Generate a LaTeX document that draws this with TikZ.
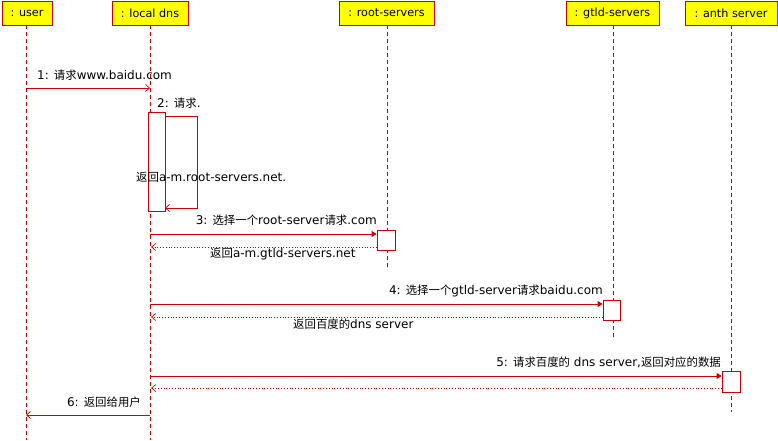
\documentclass[tikz,border=0pt]{standalone}
\usepackage{fontspec}
\setmainfont{DejaVu Sans}
\newfontfamily\cjk[Scale=0.95]{Noto Sans CJK SC}
\usetikzlibrary{arrows.meta}
\definecolor{lred}{RGB}{204,0,0}
\definecolor{hyel}{RGB}{255,255,0}
\tikzset{
  head/.style={draw=lred, fill=hyel, line width=0.8pt, minimum height=24pt, inner sep=0pt, font=\fontsize{11.2}{13}\selectfont},
  life/.style={draw=lred, line width=0.7pt, dash pattern=on 4pt off 3pt},
  act/.style={draw=lred, fill=white, line width=0.8pt, inner sep=0pt},
  call/.style={draw=lred, line width=0.8pt, -{Triangle[length=5pt,width=6pt]}},
  open/.style={draw=lred, line width=0.8pt, -{Straight Barb[length=4pt,width=7pt,line width=0.7pt]}},
  ret/.style={draw=lred, line width=0.8pt, dotted, -{Straight Barb[length=4pt,width=7pt,line width=0.7pt,sep]}},
  lbl/.style={inner sep=0pt, font=\fontsize{12}{14}\selectfont}
}
\begin{document}
\begin{tikzpicture}[x=1pt,y=-1pt]
\useasboundingbox (0,0) rectangle (778,440);
% heads
\node[head, minimum width=50pt] (user) at (27,13) {: user};
\node[head, minimum width=76pt] (ldns) at (150,13) {: local dns};
\node[head, minimum width=95pt] (root) at (386.5,13) {: root-servers};
\node[head, minimum width=93pt] (gtld) at (612.5,13) {: gtld-servers};
\node[head, minimum width=92pt] (anth) at (731,13) {: anth server};
% lifeline ends
\coordinate (userE) at (26,440);
\coordinate (ldnsE) at (150,440);
\coordinate (rootE) at (387,268);
\coordinate (gtldE) at (613,340);
\coordinate (anthE) at (731,412);
\draw[life] (26,25) -- (userE);
\draw[life] (150,25) -- (ldnsE);
\draw[life] (387,25) -- (rootE);
\draw[life] (613,25) -- (gtldE);
\draw[life] (731,25) -- (anthE);
% activations
\node[act, minimum width=17pt, minimum height=99pt] (a2) at (156.5,161.5) {};
\node[act, minimum width=18pt, minimum height=20pt] (a3) at (386,240) {};
\node[act, minimum width=17pt, minimum height=20pt] (a4) at (611.5,310) {};
\node[act, minimum width=18pt, minimum height=21pt] (a5) at (731,381.5) {};
% message 1
\coordinate (m1s) at (26,88);
\coordinate (m1e) at (150,88);
\draw[open] (m1s) -- (m1e);
\node[lbl, anchor=west] (l1) at (37,75) {1: {\cjk 请求}www.baidu.com};
% message 2 (self)
\coordinate (m2s) at (165,116);
\coordinate (m2a) at (197,116);
\coordinate (m2b) at (197,208);
\coordinate (m2e) at (165,208);
\draw[open] (m2s) -- (m2a) -- (m2b) -- (m2e);
\node[lbl, anchor=west] (l2) at (157,103) {2: {\cjk 请求}.};
\node[lbl, anchor=west] (l2r) at (136,177) {{\cjk 返回}a-m.root-servers.net.};
% message 3
\coordinate (m3s) at (150,234);
\draw[call] (m3s) -- (a3.west |- m3s);
\node[lbl, anchor=east] (l3) at (377,220) {3: {\cjk 选择一个}root-server{\cjk 请求}.com};
\coordinate (r3e) at (150,247);
\draw[ret] (a3.west |- r3e) -- (r3e);
\node[lbl, anchor=west] (l3r) at (210,254) {{\cjk 返回}a-m.gtld-servers.net};
% message 4
\coordinate (m4s) at (150,304);
\draw[call] (m4s) -- (a4.west |- m4s);
\node[lbl, anchor=east] (l4) at (603,291) {4: {\cjk 选择一个}gtld-server{\cjk 请求}baidu.com};
\coordinate (r4e) at (150,317);
\draw[ret] (a4.west |- r4e) -- (r4e);
\node[lbl, anchor=west] (l4r) at (293,324) {{\cjk 返回百度的}dns server};
% message 5
\coordinate (m5s) at (150,376);
\draw[call] (m5s) -- (a5.west |- m5s);
\node[lbl, anchor=east] (l5) at (721,362) {5: {\cjk 请求百度的} dns server,{\cjk 返回对应的数据}};
\coordinate (r5e) at (150,388);
\draw[ret] (a5.west |- r5e) -- (r5e);
% message 6
\coordinate (m6s) at (150,415);
\coordinate (m6e) at (26,415);
\draw[open] (m6s) -- (m6e);
\node[lbl, anchor=east] (l6) at (141,402) {6: {\cjk 返回给用户}};
\end{tikzpicture}
\end{document}
